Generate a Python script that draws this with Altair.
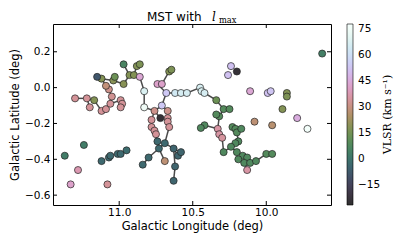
import altair as alt
import numpy as np
import pandas as pd

# ---- data ----
lon = [11.30, 11.22, 11.17, 11.20, 11.12, 11.09, 11.06, 11.05, 11.07, 11.09,
       11.12, 11.15, 11.04, 11.03, 10.97, 10.97, 10.93, 10.90, 10.88, 10.86,
       10.86, 10.83, 10.83, 10.99, 10.98, 10.99,
       10.74, 10.71, 10.66, 10.645, 10.68, 10.62, 10.58, 10.54, 10.45, 10.44,
       10.42, 10.71, 10.76, 10.67, 10.72,
       10.34, 10.29, 10.25, 10.32, 10.34, 10.42, 10.445, 10.33, 10.32, 10.30,
       10.23, 10.21, 10.20, 10.19, 10.21, 10.24, 10.29, 10.20, 10.16, 10.13,
       10.19, 10.15, 10.11, 10.07, 10.13, 10.00, 9.96, 10.17,
       10.24, 10.26, 10.20, 10.11, 9.99, 9.97, 9.86, 9.86, 9.89, 9.79,
       9.72, 9.62, 10.08, 9.96,
       11.37, 11.24, 11.28, 11.33, 11.08, 11.12, 11.07, 11.06, 11.01, 10.99,
       10.95, 10.78, 10.78, 10.76, 10.75, 10.67, 10.67, 10.66, 10.74, 10.73,
       10.69, 10.63, 10.60, 10.58, 10.80, 10.84, 10.69, 10.62, 10.63]
lat = [-0.06, -0.06, -0.07, -0.11, -0.13, -0.12, -0.09, -0.05, -0.01, 0.01,
       0.05, 0.06, 0.04, 0.06, 0.02, 0.13, 0.07, 0.07, 0.12, 0.13,
       0.06, -0.02, -0.11, -0.07, -0.09, -0.11,
       0.02, 0.02, 0.09, 0.10, -0.03, -0.03, -0.03, -0.03, 0.00, -0.02,
       -0.03, -0.10, -0.13, -0.13, -0.17,
       -0.07, -0.12, -0.12, -0.16, -0.15, -0.21, -0.225, -0.23, -0.26, -0.28,
       -0.22, -0.23, -0.25, -0.30, -0.31, -0.33, -0.36, -0.36, -0.38, -0.39,
       -0.40, -0.42, -0.42, -0.41, -0.46, -0.37, -0.37, -0.23,
       0.12, 0.07, 0.09, -0.02, -0.03, -0.02, -0.03, -0.05, -0.12, -0.17,
       -0.23, 0.19, -0.19, -0.21,
       -0.38, -0.32, -0.46, -0.54, -0.54, -0.41, -0.39, -0.38, -0.37, -0.37,
       -0.35, -0.18, -0.22, -0.24, -0.26, -0.17, -0.19, -0.22, -0.30, -0.34,
       -0.31, -0.34, -0.38, -0.36, -0.39, -0.43, -0.41, -0.44, -0.52]
vlsr = [34, 34, 18, 34, 34, 34, 34, 33, 32, 29,
        18, -8, 19, 14, 19, 6, 18, 18, 18, 17,
        44, 68, 74, 34, 34, 34,
        42, 42, 18, 17, 54, 64, 66, 66, 67, 68,
        66, 54, 32, 32, -24,
        14, 9, 9, 9, 9, 8, 8, 36, 36, 35,
        9, 9, 9, 8, 8, 8, 8, 8, 8, 8,
        8, 8, 8, 8, 36, 9, 9, 8,
        52, 52, -24, 44, 52, 53, 18, 17, 18, 46,
        77, 4, 28, 27,
        3, 3, 38, 42, 34, -3, -3, -3, -3, -3,
        -2, 34, 34, 34, 34, 34, 34, 34, -3, -3,
        -3, -4, -4, -4, -3, -3, 28, -4, -4]
edges = [(0, 1), (1, 2), (1, 3), (2, 4), (4, 5), (5, 6), (6, 7), (7, 8), (8, 9),
         (9, 10), (10, 11), (10, 12), (12, 13), (12, 14), (14, 16), (15, 16),
         (16, 17), (17, 18), (18, 19), (17, 20), (20, 21), (21, 22), (22, 38),
         (6, 23), (23, 24), (24, 25),
         (28, 29), (28, 27), (27, 26), (26, 30), (30, 31), (31, 32), (32, 33),
         (33, 34), (34, 35), (35, 36), (36, 41), (30, 37), (37, 38), (37, 39),
         (38, 40), (38, 94), (94, 95), (95, 96), (96, 97), (97, 101), (98, 99),
         (99, 100), (100, 103), (101, 102), (102, 103), (103, 104), (104, 106),
         (104, 105), (104, 110), (110, 111), (102, 107), (107, 108), (102, 109),
         (41, 42), (42, 43), (42, 44), (44, 45), (44, 48), (46, 47), (46, 48),
         (48, 49), (49, 50), (50, 57), (57, 56), (56, 55), (55, 54), (54, 53),
         (53, 52), (52, 51), (52, 68), (56, 58), (58, 59), (59, 60), (60, 63),
         (61, 62), (62, 63), (63, 64), (64, 66), (66, 67), (62, 65)]
x_ticks = [11.0, 10.5, 10.0]
y_ticks = [-0.6, -0.4, -0.2, 0.0, 0.2]
cbar_ticks = [-15, 0, 15, 30, 45, 60, 75]
cbar_label = ["VLSR  (km s\u207b\u00b9)"]
title_main = ["MST with"]
title_var = ["l"]
title_sub = ["max"]
v_min, v_max = -26.5, 78.0

# ---- tables ----
nodes = pd.DataFrame({"lon": lon, "lat": lat, "v": vlsr})
seg_rows = []
for k, (a, b) in enumerate(edges):
    seg_rows.append({"e": k, "lon": lon[a], "lat": lat[a]})
    seg_rows.append({"e": k, "lon": lon[b], "lat": lat[b]})
segs = pd.DataFrame(seg_rows)


# cubehelix colour map (matplotlib default parameters), lightened a bit
def cubehelix_hex(n, gamma=1.0, s=0.5, r=-1.5, h=1.0, fade=0.18):
    out = []
    for x in np.linspace(0, 1, n):
        xg = x ** gamma
        a = h * xg * (1 - xg) / 2
        phi = 2 * np.pi * (s / 3 + r * x)
        R = xg + a * (-0.14861 * np.cos(phi) + 1.78277 * np.sin(phi))
        G = xg + a * (-0.29227 * np.cos(phi) - 0.90649 * np.sin(phi))
        B = xg + a * (1.97294 * np.cos(phi))
        rgb = [min(max(c, 0), 1) for c in (R, G, B)]
        rgb = [c * (1 - fade) + fade for c in rgb]
        out.append("#%02x%02x%02x" % tuple(int(round(c * 255)) for c in rgb))
    return out


N = 24
c_range = cubehelix_hex(N)
c_domain = list(np.linspace(v_min, v_max, N))

W, H = 278, 181
MINUS = "replace(datum.label, '-', '\u2212')"

xs = alt.Scale(domain=[9.56, 11.45], reverse=True, nice=False, zero=False)
ys = alt.Scale(domain=[-0.655, 0.355], nice=False, zero=False)

xenc = alt.X("lon:Q", scale=xs, axis=alt.Axis(
    values=x_ticks, format=".1f", title="Galactic Longitude (deg)",
    labelPadding=2, titlePadding=3, labelExpr=MINUS))
yenc = alt.Y("lat:Q", scale=ys, axis=alt.Axis(
    values=y_ticks, format=".1f", title="Galactic Latitude (deg)",
    labelPadding=3, titlePadding=4, labelExpr=MINUS))

lines = alt.Chart(segs).mark_line(color="#4a4a4a", strokeWidth=1.5).encode(
    x=xenc, y=yenc, detail="e:N")

points = alt.Chart(nodes).mark_circle(
    size=50, opacity=1, stroke="#222222", strokeWidth=0.7).encode(
    x="lon:Q", y="lat:Q",
    color=alt.Color("v:Q", scale=alt.Scale(domain=c_domain, range=c_range),
                    legend=alt.Legend(
                        orient="none", legendX=294, legendY=0,
                        direction="vertical", gradientLength=H,
                        gradientThickness=6, gradientStrokeColor="black",
                        gradientStrokeWidth=0.6, values=cbar_ticks,
                        labelFont="DejaVu Sans", labelFontSize=10.5,
                        labelColor="black", labelOffset=5, labelExpr=MINUS,
                        title=None, padding=0)))

cbar_title = alt.Chart(pd.DataFrame({"t": cbar_label})).mark_text(
    angle=270, font="DejaVu Serif", fontSize=11, color="black",
    align="center", baseline="middle").encode(
    text="t:N", x=alt.value(W + 57), y=alt.value(H / 2))

t_main = alt.Chart(pd.DataFrame({"t": title_main})).mark_text(
    font="DejaVu Sans", fontSize=12, color="black", align="left",
    baseline="alphabetic").encode(text="t:N", x=alt.value(94), y=alt.value(-3.5))
t_var = alt.Chart(pd.DataFrame({"t": title_var})).mark_text(
    font="DejaVu Serif", fontStyle="italic", fontSize=12, color="black",
    align="left", baseline="alphabetic").encode(
    text="t:N", x=alt.value(159), y=alt.value(-3.5))
t_sub = alt.Chart(pd.DataFrame({"t": title_sub})).mark_text(
    font="DejaVu Serif", fontSize=8.3, color="black", align="left",
    baseline="alphabetic").encode(text="t:N", x=alt.value(166), y=alt.value(-0.8))

tx = pd.DataFrame({"t": x_ticks})
ty = pd.DataFrame({"t": y_ticks})
tick_bot = alt.Chart(tx).mark_rule(color="black").encode(
    x="t:Q", y=alt.value(H - 4), y2=alt.value(H))
tick_top = alt.Chart(tx).mark_rule(color="black").encode(
    x="t:Q", y=alt.value(0), y2=alt.value(4))
tick_left = alt.Chart(ty).mark_rule(color="black").encode(
    y="t:Q", x=alt.value(0), x2=alt.value(4))
tick_right = alt.Chart(ty).mark_rule(color="black").encode(
    y="t:Q", x=alt.value(W - 4), x2=alt.value(W))

chart = alt.layer(lines, tick_bot, tick_top, tick_left, tick_right, points,
                  cbar_title, t_main, t_var, t_sub).properties(
    width=W, height=H,
    autosize=alt.AutoSizeParams(type="none"),
    padding={"left": 45, "top": 16, "right": 74, "bottom": 31},
).configure_view(stroke="black", strokeWidth=1).configure_axis(
    domain=False, ticks=False, grid=False, labelFont="DejaVu Sans",
    labelFontSize=10.5, labelColor="black", titleFont="DejaVu Sans",
    titleFontSize=11.5, titleFontWeight="normal", titleColor="black")

chart.save("out.html", embed_options={"renderer": "svg", "actions": False})
